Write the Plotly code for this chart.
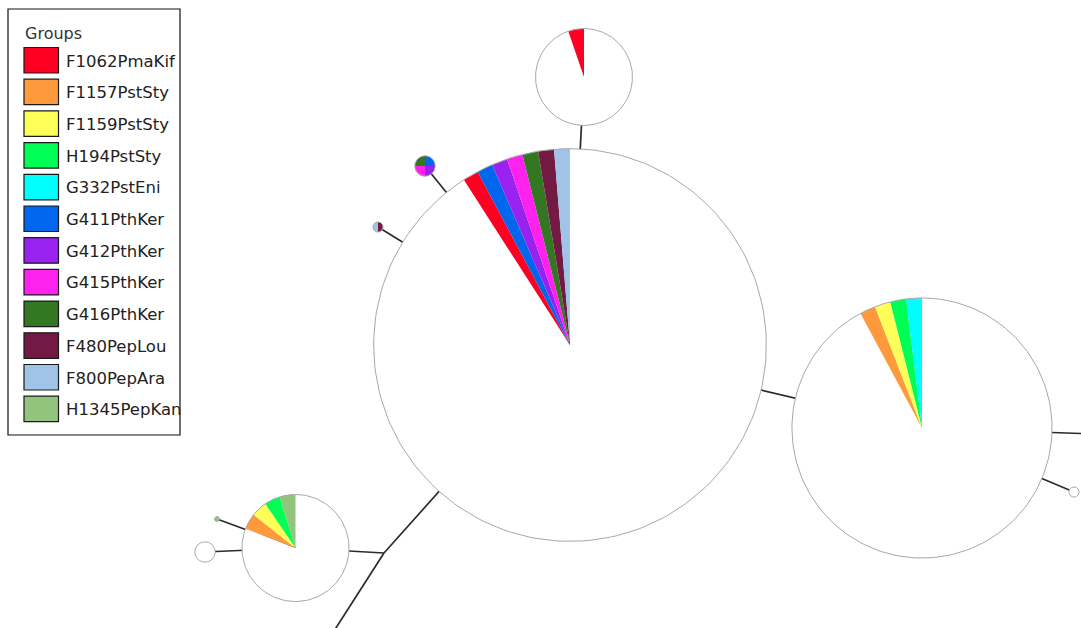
import numpy as np
import plotly.graph_objects as go

# Groups shown in the legend (slice order within every pie, clockwise after the unassigned share)
groups = ["F1062PmaKif", "F1157PstSty", "F1159PstSty", "H194PstSty", "G332PstEni",
          "G411PthKer", "G412PthKer", "G415PthKer", "G416PthKer", "F480PepLou",
          "F800PepAra", "H1345PepKan"]
group_colors = ["#ff0022", "#ff9a3c", "#ffff5a", "#00ff55", "#00ffff",
                "#0066ee", "#9922f0", "#ff22ee", "#337722", "#731a44",
                "#9fc4e8", "#92c47e"]
unassigned_color = "#ffffff"

# Haplotype nodes: layout position, unassigned count and per-group counts
node_ids = ["H1", "H2", "H3", "H4", "H5", "H6", "H7", "H8", "H9", "MV1", "H10", "H11"]
node_x = [570, 584, 922, 295.5, 425, 378, 205, 217, 1074, 384, 1125, 300]
node_y = [345, 77, 428, 548, 166, 227, 552, 519, 492, 553, 435, 684]
node_unassigned = [70, 18, 47, 17, 0, 0, 4, 0, 2, 0, 2, 4]
node_groups = [
    {"F1062PmaKif": 1, "G411PthKer": 1, "G412PthKer": 1, "G415PthKer": 1,
     "G416PthKer": 1, "F480PepLou": 1, "F800PepAra": 1},
    {"F1062PmaKif": 1},
    {"F1157PstSty": 1, "F1159PstSty": 1, "H194PstSty": 1, "G332PstEni": 1},
    {"F1157PstSty": 1, "F1159PstSty": 1, "H194PstSty": 1, "H1345PepKan": 1},
    {"G411PthKer": 1, "G412PthKer": 1, "G415PthKer": 1, "G416PthKer": 1},
    {"F480PepLou": 1, "F800PepAra": 1},
    {},
    {"H1345PepKan": 1},
    {},
    {},
    {},
    {},
]

# Network links between nodes
edges = [("H1", "H2"), ("H1", "H3"), ("H1", "H5"), ("H1", "H6"), ("H1", "MV1"),
         ("MV1", "H4"), ("MV1", "H11"), ("H4", "H7"), ("H4", "H8"),
         ("H3", "H9"), ("H3", "H10")]

RADIUS_PER_SAMPLE = 2.55
W, H = 1081, 628

idx = {n: i for i, n in enumerate(node_ids)}
fig = go.Figure()

# links
ex, ey = [], []
for a, b in edges:
    ex += [node_x[idx[a]], node_x[idx[b]], None]
    ey += [node_y[idx[a]], node_y[idx[b]], None]
fig.add_trace(go.Scatter(x=ex, y=ey, mode="lines",
                         line=dict(color="#2b2b2b", width=1.7), hoverinfo="skip"))


def wedge(cx, cy, r, a0, a1):
    """Polygon of a pie slice, angles in degrees clockwise from 12 o'clock."""
    n = max(int(abs(a1 - a0)) + 2, 3)
    t = np.radians(np.linspace(a0, a1, n))
    xs = [cx] + list(cx + r * np.sin(t)) + [cx]
    ys = [cy] + list(cy - r * np.cos(t)) + [cy]
    return xs, ys


slice_x = {c: [] for c in [unassigned_color] + group_colors}
slice_y = {c: [] for c in [unassigned_color] + group_colors}
ring_x, ring_y = [], []
for i in range(len(node_ids)):
    parts = [(unassigned_color, node_unassigned[i])]
    parts += [(group_colors[g], node_groups[i].get(name, 0)) for g, name in enumerate(groups)]
    total = sum(v for _, v in parts)
    if total == 0:
        continue
    r = RADIUS_PER_SAMPLE * total
    start = 0.0
    for col, v in parts:
        if v <= 0:
            continue
        end = start + 360.0 * v / total
        xs, ys = wedge(node_x[i], node_y[i], r, start, end)
        slice_x[col] += xs + [None]
        slice_y[col] += ys + [None]
        start = end
    t = np.radians(np.linspace(0, 360, 181))
    ring_x += list(node_x[i] + r * np.sin(t)) + [None]
    ring_y += list(node_y[i] - r * np.cos(t)) + [None]

for col in [unassigned_color] + group_colors:
    if not slice_x[col]:
        continue
    fig.add_trace(go.Scatter(x=slice_x[col], y=slice_y[col], mode="lines", fill="toself",
                             fillcolor=col, line=dict(width=0, color=col), hoverinfo="skip"))

fig.add_trace(go.Scatter(x=ring_x, y=ring_y, mode="lines",
                         line=dict(color="#a8a8a8", width=1), hoverinfo="skip"))


# legend box drawn in paper space
def px(x, y):
    return x / W, 1 - y / H


shapes, annotations = [], []
x0, y0 = px(8, 9)
x1, y1 = px(180, 435)
shapes.append(dict(type="rect", xref="paper", yref="paper", x0=x0, y0=y1, x1=x1, y1=y0,
                   line=dict(color="#111111", width=1.2), fillcolor="white", layer="above"))
tx, ty = px(23, 33)
annotations.append(dict(text="Groups", xref="paper", yref="paper", x=tx, y=ty,
                        xanchor="left", yanchor="middle", showarrow=False,
                        font=dict(family="Verdana, DejaVu Sans", size=16, color="#333333")))
for k, (name, col) in enumerate(zip(groups, group_colors)):
    top = 47.5 + 31.7 * k
    sx0, sy0 = px(24, top)
    sx1, sy1 = px(58.5, top + 25.5)
    shapes.append(dict(type="rect", xref="paper", yref="paper", x0=sx0, y0=sy1, x1=sx1, y1=sy0,
                       line=dict(color="#1a1a1a", width=1.2), fillcolor=col, layer="above"))
    lx, ly = px(64, top + 13.5)
    annotations.append(dict(text=name, xref="paper", yref="paper", x=lx, y=ly,
                            xanchor="left", yanchor="middle", showarrow=False,
                            font=dict(family="Verdana, DejaVu Sans", size=16.5, color="#222222")))

fig.update_layout(
    width=W, height=H, margin=dict(l=0, r=0, t=0, b=0),
    paper_bgcolor="white", plot_bgcolor="white", showlegend=False,
    xaxis=dict(range=[0, W], visible=False, fixedrange=True),
    yaxis=dict(range=[H, 0], visible=False, fixedrange=True),
    shapes=shapes, annotations=annotations,
)

fig.write_html("out.html")
